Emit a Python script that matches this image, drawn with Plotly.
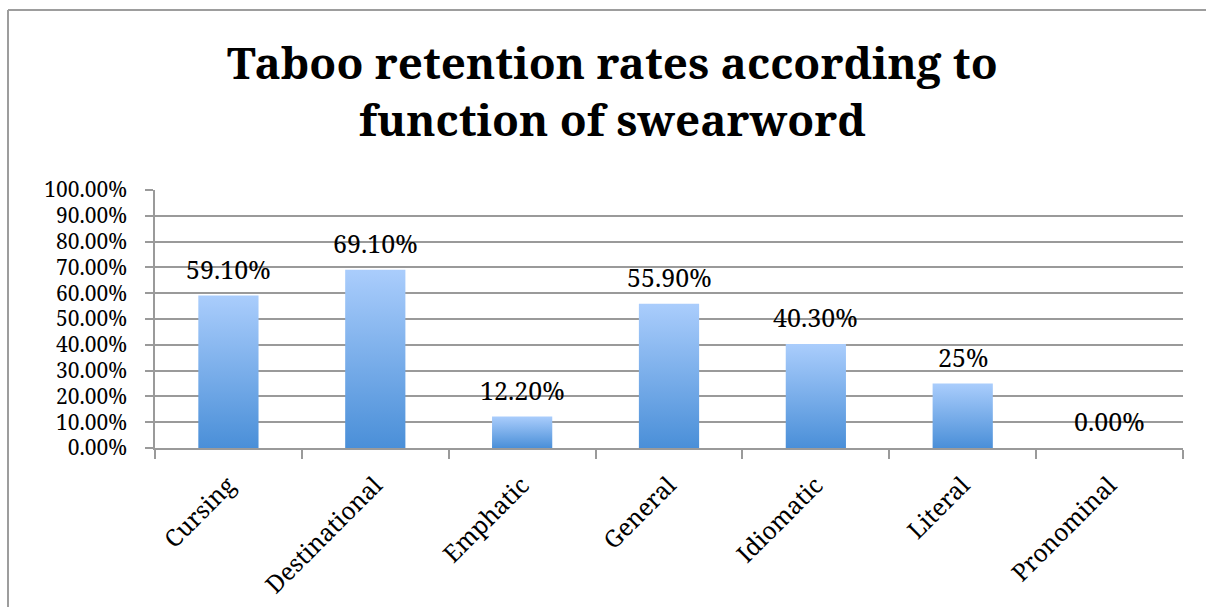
import plotly.graph_objects as go

# Retention rate (%) of taboo content per swearword function
categories = ["Cursing", "Destinational", "Emphatic", "General",
              "Idiomatic", "Literal", "Pronominal"]
retention = [59.10, 69.10, 12.20, 55.90, 40.30, 25.0, 0.0]
value_labels = ["59.10%", "69.10%", "12.20%", "55.90%", "40.30%", "25%", "0.00%"]
y_ticks = [0, 10, 20, 30, 40, 50, 60, 70, 80, 90, 100]
y_tick_labels = [f"{t:.2f}%" for t in y_ticks]

W, H = 1206, 607
ML, MR, MT, MB = 155, 23, 190, 159
BAR_W = 0.41
SERIF = "Noto Serif, DejaVu Serif, serif"
GRID = "#9a9a9a"

fig = go.Figure()

# each column is a filled rectangle with a vertical light-to-mid blue gradient
for i, v in enumerate(retention):
    x0, x1 = i - BAR_W / 2, i + BAR_W / 2
    fig.add_trace(go.Scatter(
        x=[x0, x0, x1, x1, x0],
        y=[0, v, v, 0, 0],
        mode="lines",
        line=dict(width=0),
        fill="toself",
        fillgradient=dict(
            type="vertical",
            start=0,
            stop=max(v, 0.001),
            colorscale=[[0, "#4a8fd8"], [1, "#aacdfc"]],
        ),
        hoverinfo="skip",
        showlegend=False,
    ))

# value labels above each column
for i, (v, lab) in enumerate(zip(retention, value_labels)):
    fig.add_annotation(
        x=i, y=v, text=lab, showarrow=False,
        yshift=27, yanchor="middle",
        font=dict(family=SERIF, size=25, color="#000"),
    )

# pixel -> paper conversions for frame and title placement
px = lambda p: (p - ML) / (W - ML - MR)
py = lambda p: (H - MB - p) / (H - MT - MB)

# chart title
fig.add_annotation(
    xref="paper", yref="paper", x=px(612), y=py(30),
    xanchor="center", yanchor="top", showarrow=False,
    text="<b>Taboo retention rates according to<br>function of swearword</b>",
    align="center",
    font=dict(family=SERIF, size=44, color="#000"),
)

# outer chart frame (top and left edges)
frame = dict(color="#9d9d9d", width=2)
fig.add_shape(type="line", xref="paper", yref="paper",
              x0=px(8), x1=px(W + 5), y0=py(10), y1=py(10), line=frame)
fig.add_shape(type="line", xref="paper", yref="paper",
              x0=px(8), x1=px(8), y0=py(10), y1=py(H + 5), line=frame)

fig.update_layout(
    width=W, height=H,
    margin=dict(l=ML, r=MR, t=MT, b=MB, autoexpand=False),
    paper_bgcolor="white", plot_bgcolor="white",
    xaxis=dict(
        range=[-0.5, len(categories) - 0.5],
        tickvals=list(range(len(categories))),
        ticktext=categories,
        tickangle=-45,
        ticks="", ticklen=0,
        ticklabelstandoff=12,
        automargin=False,
        showgrid=False, zeroline=False,
        showline=True, linecolor=GRID, linewidth=1.5,
        tickfont=dict(family=SERIF, size=24, color="#000"),
        minor=dict(
            tickvals=[k - 0.5 for k in range(len(categories) + 1)],
            ticks="outside", ticklen=9, tickcolor=GRID, tickwidth=1.5,
            showgrid=False,
        ),
        fixedrange=True,
    ),
    yaxis=dict(
        range=[0, 100],
        tickvals=y_ticks,
        ticktext=y_tick_labels,
        ticks="outside", ticklen=8, tickcolor=GRID, tickwidth=1.5,
        ticklabelstandoff=14,
        automargin=False,
        showgrid=True, gridcolor=GRID, gridwidth=1.5,
        zeroline=False,
        showline=True, linecolor=GRID, linewidth=1.5,
        tickfont=dict(family=SERIF, size=21, color="#000"),
        fixedrange=True,
    ),
)

fig.write_html("out.html")
